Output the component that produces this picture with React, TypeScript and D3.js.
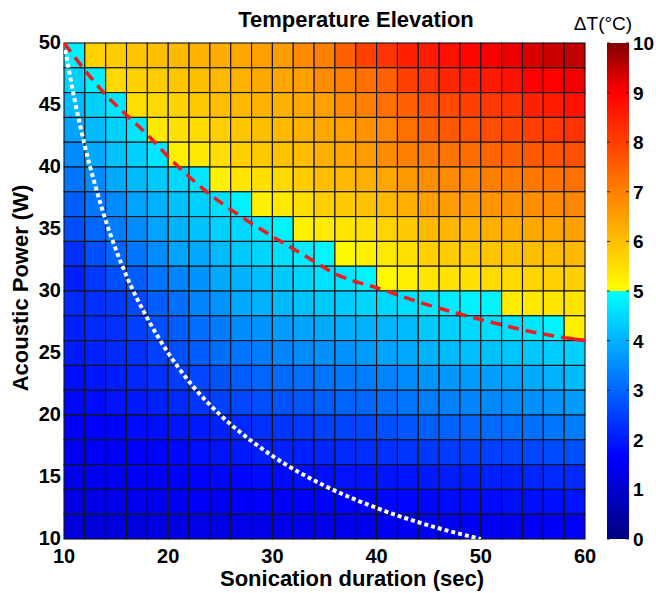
import React from 'react';
import * as d3 from 'd3';

// sonication duration (sec), cell centres
const durations = [11, 13, 15, 17, 19, 21, 23, 25, 27, 29, 31, 33, 35, 37, 39, 41, 43, 45, 47, 49, 51, 53, 55, 57, 59];
// acoustic power (W), cell centres, top row first
const powers = [49, 47, 45, 43, 41, 39, 37, 35, 33, 31, 29, 27, 25, 23, 21, 19, 17, 15, 13, 11];

// temperature elevation (deg C), one row per power
const deltaT = [
  [4.8, 5.7, 5.8, 5.9, 6.0, 6.1, 6.2, 6.3, 6.4, 6.5, 6.55, 6.8, 7.0, 7.5, 8.0, 8.2, 8.5, 8.6, 8.75, 8.9, 9.05, 9.15, 9.3, 9.4, 9.5],
  [4.4, 4.8, 5.6, 5.7, 5.8, 5.9, 6.0, 6.1, 6.2, 6.35, 6.4, 6.5, 6.8, 7.0, 7.25, 7.5, 8.0, 8.2, 8.4, 8.5, 8.6, 8.75, 9.0, 9.0, 9.1],
  [4.1, 4.4, 4.7, 5.5, 5.6, 5.7, 5.85, 6.0, 6.1, 6.2, 6.25, 6.35, 6.5, 6.8, 7.0, 7.25, 7.5, 7.75, 7.85, 8.0, 8.1, 8.2, 8.5, 8.6, 8.75],
  [3.8, 4.1, 4.4, 4.7, 5.35, 5.5, 5.6, 5.75, 5.9, 6.0, 6.1, 6.2, 6.35, 6.5, 6.7, 6.9, 7.25, 7.5, 7.6, 7.7, 7.8, 7.9, 8.0, 8.1, 8.2],
  [3.5, 3.9, 4.2, 4.4, 4.7, 5.25, 5.35, 5.5, 5.75, 5.85, 5.95, 6.05, 6.25, 6.4, 6.55, 6.8, 7.0, 7.1, 7.2, 7.3, 7.4, 7.5, 7.6, 7.7, 7.75],
  [3.2, 3.5, 3.9, 4.1, 4.3, 4.5, 4.7, 5.2, 5.4, 5.5, 5.6, 5.8, 6.0, 6.1, 6.25, 6.4, 6.6, 6.75, 6.85, 6.9, 7.0, 7.05, 7.1, 7.2, 7.25],
  [2.9, 3.2, 3.5, 3.8, 4.0, 4.2, 4.4, 4.6, 4.8, 5.25, 5.35, 5.5, 5.75, 5.85, 5.95, 6.1, 6.25, 6.5, 6.55, 6.6, 6.65, 6.7, 6.75, 6.8, 6.9],
  [2.7, 3.0, 3.3, 3.5, 3.8, 4.0, 4.2, 4.4, 4.5, 4.7, 4.85, 5.2, 5.3, 5.4, 5.5, 5.7, 5.85, 6.1, 6.15, 6.2, 6.25, 6.3, 6.35, 6.4, 6.5],
  [2.3, 2.7, 3.0, 3.2, 3.5, 3.8, 3.9, 4.1, 4.3, 4.45, 4.6, 4.75, 4.9, 5.1, 5.2, 5.35, 5.5, 5.75, 5.8, 5.85, 5.9, 5.95, 6.0, 6.05, 6.1],
  [2.1, 2.4, 2.7, 2.9, 3.2, 3.4, 3.6, 3.9, 4.0, 4.15, 4.3, 4.45, 4.6, 4.7, 4.85, 5.1, 5.2, 5.4, 5.45, 5.5, 5.55, 5.6, 5.65, 5.7, 5.75],
  [2.2, 2.3, 2.4, 2.6, 2.9, 3.1, 3.4, 3.6, 3.9, 4.0, 4.1, 4.2, 4.3, 4.35, 4.45, 4.5, 4.6, 4.7, 4.75, 4.8, 4.85, 5.3, 5.35, 5.4, 5.45],
  [2.1, 2.2, 2.3, 2.5, 2.7, 2.9, 3.1, 3.3, 3.5, 3.6, 3.7, 3.8, 3.9, 3.95, 4.0, 4.05, 4.1, 4.3, 4.4, 4.5, 4.55, 4.6, 4.7, 4.85, 5.25],
  [2.0, 2.1, 2.2, 2.3, 2.5, 2.7, 2.9, 3.1, 3.2, 3.3, 3.4, 3.5, 3.55, 3.6, 3.7, 3.8, 3.9, 4.0, 4.1, 4.15, 4.2, 4.25, 4.3, 4.35, 4.4],
  [1.85, 1.95, 2.05, 2.15, 2.3, 2.45, 2.6, 2.75, 2.9, 3.0, 3.05, 3.1, 3.2, 3.25, 3.3, 3.4, 3.5, 3.6, 3.65, 3.7, 3.75, 3.8, 3.9, 4.0, 4.1],
  [1.75, 1.8, 1.9, 2.0, 2.1, 2.2, 2.35, 2.5, 2.6, 2.7, 2.75, 2.8, 2.9, 2.95, 3.0, 3.1, 3.2, 3.3, 3.35, 3.4, 3.45, 3.5, 3.55, 3.6, 3.7],
  [1.6, 1.65, 1.7, 1.8, 1.85, 1.95, 2.0, 2.1, 2.2, 2.3, 2.35, 2.4, 2.5, 2.55, 2.6, 2.7, 2.8, 2.9, 2.95, 3.0, 3.05, 3.1, 3.15, 3.2, 3.3],
  [1.5, 1.55, 1.6, 1.65, 1.7, 1.75, 1.85, 1.9, 2.0, 2.05, 2.1, 2.1, 2.15, 2.2, 2.25, 2.3, 2.35, 2.4, 2.45, 2.5, 2.5, 2.55, 2.6, 2.65, 2.7],
  [1.4, 1.45, 1.5, 1.55, 1.6, 1.65, 1.7, 1.75, 1.75, 1.8, 1.8, 1.85, 1.85, 1.9, 1.9, 1.95, 1.95, 2.0, 2.05, 2.05, 2.1, 2.1, 2.15, 2.2, 2.2],
  [1.3, 1.35, 1.4, 1.45, 1.45, 1.5, 1.55, 1.55, 1.6, 1.6, 1.65, 1.65, 1.7, 1.7, 1.7, 1.75, 1.75, 1.75, 1.8, 1.8, 1.8, 1.85, 1.85, 1.85, 1.9],
  [1.2, 1.2, 1.25, 1.25, 1.3, 1.3, 1.35, 1.35, 1.4, 1.4, 1.4, 1.4, 1.45, 1.45, 1.45, 1.5, 1.5, 1.5, 1.5, 1.5, 1.55, 1.55, 1.55, 1.55, 1.6],
];

// 5 deg C threshold (red dashed), [sec, W]
const thresholdCurve = [[10, 50], [13.7, 46.1], [18, 42.6], [20.5, 40.4], [24, 37.8], [27, 36.0], [33, 32.9], [36, 31.4], [41, 30.0], [43, 29.4], [50, 27.7], [54.4, 26.8], [58.3, 26.2], [60, 26.0]];
// equal energy curve (white dotted), [sec, W]
const energyCurve = [[10, 50], [11, 45.5], [12, 41.7], [13, 38.5], [14, 35.7], [15, 33.3], [16, 31.2], [18, 27.8], [20, 25], [22, 22.7], [25, 20], [28, 17.9], [30, 16.7], [35, 14.3], [40, 12.5], [45, 11.1], [50, 10]];

const xTicks = [10, 20, 30, 40, 50, 60];
const yTicks = [10, 15, 20, 25, 30, 35, 40, 45, 50];
const cbTicks = [0, 1, 2, 3, 4, 5, 6, 7, 8, 9, 10];

const lowStops = [0, 1.67, 5];
const lowColors = ['#000080', '#0000ff', '#00ffff'];
const highStops = [5, 9, 10];
const highColors = ['#ffff00', '#ff0000', '#800000'];

const font = 'Liberation Sans, Arial, Helvetica, sans-serif';

export default function App() {
  const W = 656, H = 593;
  const left = 64, right = 585, top = 43, bottom = 539;
  const cbX = 607, cbW = 22;

  const x = d3.scaleLinear().domain([10, 60]).range([left, right]);
  const y = d3.scaleLinear().domain([10, 50]).range([bottom, top]);
  const cb = d3.scaleLinear().domain([0, 10]).range([bottom, top]);

  const lowScale = d3.scaleLinear<string>().domain(lowStops).range(lowColors).clamp(true);
  const highScale = d3.scaleLinear<string>().domain(highStops).range(highColors).clamp(true);
  const color = (v: number) => (v < 5 ? lowScale(v) : highScale(v));

  const line = d3.line<number[]>().x(d => x(d[0])).y(d => y(d[1])).curve(d3.curveMonotoneX);

  const gradStops = [
    ...lowStops.map((s, i) => ({ off: s / 10, c: lowColors[i] })),
    ...highStops.map((s, i) => ({ off: s / 10, c: highColors[i] })),
  ];

  return (
    <svg width={W} height={H} style={{ position: 'absolute', left: 0, top: 0, background: '#fff' }} fontFamily={font}>
      <defs>
        <linearGradient id="cbar" x1="0" y1="1" x2="0" y2="0">
          {gradStops.map((s, i) => <stop key={i} offset={s.off} stopColor={s.c} />)}
        </linearGradient>
        <clipPath id="plotClip">
          <rect x={left} y={top} width={right - left} height={bottom - top} />
        </clipPath>
      </defs>

      {/* cells */}
      <g>
        {deltaT.map((row, i) =>
          row.map((v, j) => (
            <rect
              key={i + '-' + j}
              x={x(durations[j] - 1)}
              y={y(powers[i] + 1)}
              width={x(durations[j] + 1) - x(durations[j] - 1)}
              height={y(powers[i] - 1) - y(powers[i] + 1)}
              fill={color(v)}
              stroke="#141414"
              strokeWidth={1.1}
            />
          ))
        )}
      </g>

      <g clipPath="url(#plotClip)">
        <path d={line(energyCurve) || ''} fill="none" stroke="#fff" strokeWidth={4} strokeDasharray="4 3" />
        <path d={line(thresholdCurve) || ''} fill="none" stroke="#ee1c1c" strokeWidth={3.5} strokeDasharray="11 7" />
      </g>
      <path d={line(thresholdCurve.slice(-2)) || ''} fill="none" stroke="#ee1c1c" strokeWidth={3.5} />

      {/* tick labels */}
      {xTicks.map(t => (
        <text key={'x' + t} x={x(t)} y={563} textAnchor="middle" fontSize={20} fontWeight="bold">{t}</text>
      ))}
      {yTicks.map(t => (
        <text key={'y' + t} x={left - 3} y={y(t) + 6} textAnchor="end" fontSize={20} fontWeight="bold">{t}</text>
      ))}

      <text x={356} y={27} textAnchor="middle" fontSize={22} fontWeight="bold">Temperature Elevation</text>
      <text x={352} y={586} textAnchor="middle" fontSize={22} fontWeight="bold">Sonication duration (sec)</text>
      <text transform={`translate(28,288) rotate(-90)`} textAnchor="middle" fontSize={22} fontWeight="bold">Acoustic Power (W)</text>

      {/* colorbar */}
      <rect x={cbX} y={top} width={cbW} height={bottom - top} fill="url(#cbar)" />
      {cbTicks.map(t => (
        <g key={'c' + t}>
          <line x1={cbX} x2={cbX + 3} y1={cb(t)} y2={cb(t)} stroke="#222" />
          <line x1={cbX + cbW - 3} x2={cbX + cbW} y1={cb(t)} y2={cb(t)} stroke="#222" />
          <text x={cbX + cbW + 4} y={cb(t) + 7} fontSize={19} fontWeight="bold">{t}</text>
        </g>
      ))}
      <text x={603} y={30} textAnchor="middle" fontSize={19}>ΔT(°C)</text>
    </svg>
  );
}
